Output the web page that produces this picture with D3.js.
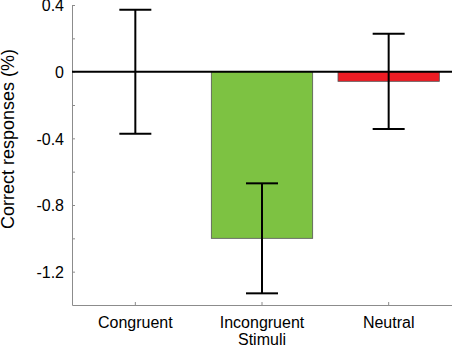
<!DOCTYPE html>
<html>
<head>
  <meta charset="utf-8">
  <style>
  body {
    margin: 0;
    background: #ffffff;
    font-family: "Liberation Sans", Arial, sans-serif;
  }
  .axis path, .axis line {
    stroke: #8c8c8c;
  }
  .axis text {
    font-size: 16px;
    fill: #000000;
  }
  .cat {
    font-size: 17px;
  }
  </style>
</head>
<body>
  <div id="chart"></div>

  <script src="https://d3js.org/d3.v7.min.js"></script>
  <script>
  // values
  var categories = ["Congruent", "Incongruent", "Neutral"];
  var values = [0, -1.0, -0.058];
  var errors = [0.372, 0.33, 0.286];
  var barColors = ["#7dc242", "#7dc242", "#ed1c24"];
  var majorTicks = [0.4, 0, -0.4, -0.8, -1.2];
  var minorTicks = [0.2, -0.2, -0.6, -1.0];

  var data = categories.map(function(c, i){
    return {name: c, value: values[i], err: errors[i], color: barColors[i]};
  });

  var W = 452, H = 346;
  var margin = {top: 5, right: 0, bottom: 41, left: 72};

  var svg = d3.select("#chart").append("svg")
      .attr("width", W)
      .attr("height", H);

  var x = d3.scaleBand()
    .domain(categories)
    .range([margin.left, W - margin.right])
    .padding(0);

  var y = d3.scaleLinear()
    .domain([-1.4, 0.4])
    .range([H - margin.bottom, margin.top]);

  var barW = x.bandwidth() * 0.8;

  // axes (ticks point inward), plain hyphen for minus
  var yAxis = d3.axisLeft(y)
    .tickValues(majorTicks.concat(minorTicks))
    .tickSizeInner(-3)
    .tickSizeOuter(0)
    .tickFormat(function(d){
      return majorTicks.indexOf(d) >= 0 ? String(d) : "";
    });

  var gy = svg.append("g")
      .attr("class", "y axis")
      .attr("transform", "translate(" + margin.left + ",0)")
      .call(yAxis);
  gy.selectAll(".tick text")
      .attr("dy", "0.36em")
      .attr("x", -8);

  var xAxis = d3.axisBottom(x)
    .tickSizeInner(-3)
    .tickSizeOuter(0)
    .tickFormat("");

  svg.append("g")
      .attr("class", "x axis")
      .attr("transform", "translate(0," + (H - margin.bottom) + ")")
      .call(xAxis);

  // category labels
  var labels = svg.append("g").attr("class", "axis");
  labels.selectAll("text.cat")
      .data(categories)
    .enter().append("text")
      .attr("class", "cat")
      .attr("x", function(d){ return x(d) + x.bandwidth() / 2; })
      .attr("y", 328)
      .attr("text-anchor", "middle")
      .text(function(d){ return d; });

  labels.append("text")
      .attr("class", "cat")
      .attr("x", x("Incongruent") + x.bandwidth() / 2)
      .attr("y", 345)
      .attr("text-anchor", "middle")
      .text("Stimuli");

  // y title
  svg.append("text")
      .attr("transform", "translate(14,139) rotate(-90)")
      .attr("text-anchor", "middle")
      .style("font-size", "18px")
      .text("Correct responses (%)");

  // bars
  svg.selectAll("rect.bar")
      .data(data.filter(function(d){ return d.value !== 0; }))
    .enter().append("rect")
      .attr("class", "bar")
      .attr("x", function(d){ return x(d.name) + (x.bandwidth() - barW) / 2; })
      .attr("y", function(d){ return y(Math.max(0, d.value)); })
      .attr("width", barW)
      .attr("height", function(d){ return Math.abs(y(d.value) - y(0)); })
      .style("fill", function(d){ return d.color; })
      .style("stroke", "#555555")
      .style("stroke-width", 0.8);

  // zero line
  svg.append("line")
      .attr("x1", margin.left)
      .attr("x2", W - margin.right)
      .attr("y1", y(0))
      .attr("y2", y(0))
      .style("stroke", "#000000")
      .style("stroke-width", 2);

  // error bars
  var capW = 32;
  var eb = svg.selectAll("g.err")
      .data(data)
    .enter().append("g")
      .attr("class", "err")
      .style("stroke", "#000000")
      .style("stroke-width", 2);

  eb.append("line")
      .attr("x1", function(d){ return x(d.name) + x.bandwidth() / 2; })
      .attr("x2", function(d){ return x(d.name) + x.bandwidth() / 2; })
      .attr("y1", function(d){ return y(d.value + d.err); })
      .attr("y2", function(d){ return y(d.value - d.err); });

  eb.append("line")
      .attr("x1", function(d){ return x(d.name) + x.bandwidth() / 2 - capW / 2; })
      .attr("x2", function(d){ return x(d.name) + x.bandwidth() / 2 + capW / 2; })
      .attr("y1", function(d){ return y(d.value + d.err); })
      .attr("y2", function(d){ return y(d.value + d.err); });

  eb.append("line")
      .attr("x1", function(d){ return x(d.name) + x.bandwidth() / 2 - capW / 2; })
      .attr("x2", function(d){ return x(d.name) + x.bandwidth() / 2 + capW / 2; })
      .attr("y1", function(d){ return y(d.value - d.err); })
      .attr("y2", function(d){ return y(d.value - d.err); });
  </script>
</body>
</html>
